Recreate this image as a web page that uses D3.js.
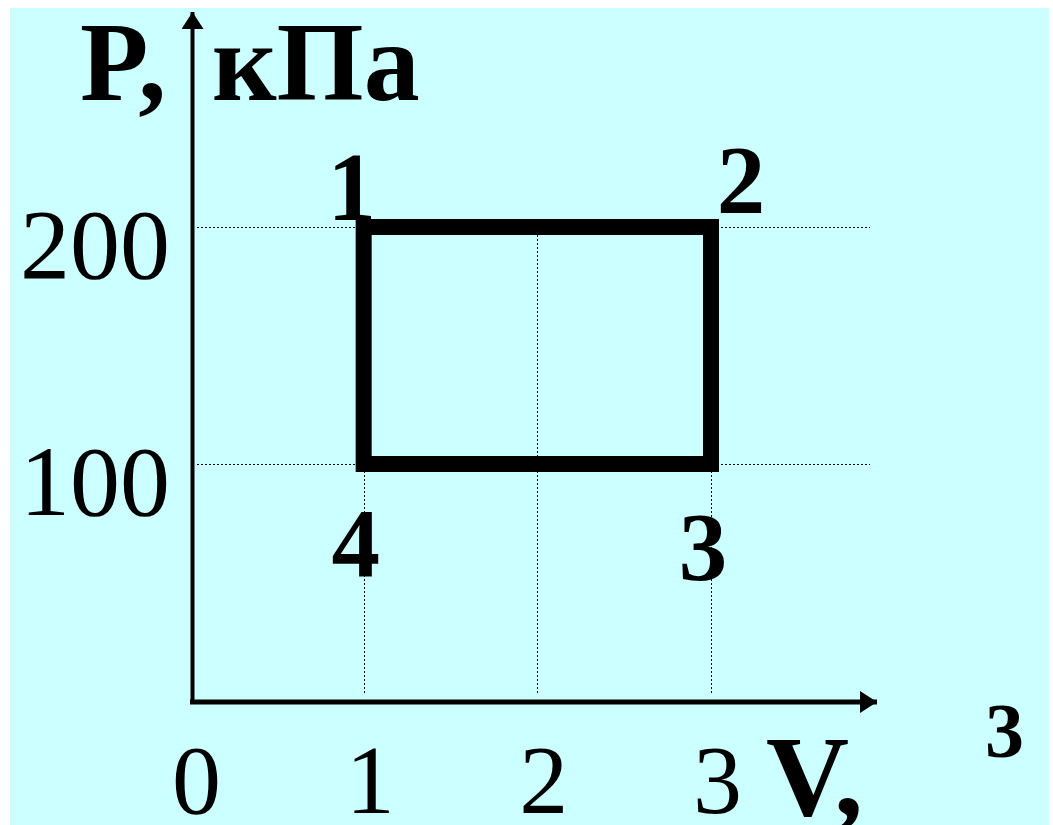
<!DOCTYPE html>
<html lang="ru">
<head>
    <meta charset="utf-8">
    <title> P-V </title>
    <script src="https://d3js.org/d3.v7.min.js"></script>
    <style>
        body { margin: 0; background: white; }
    </style>
</head>
<body>
    <div id="chart"></div>
    <script>
        // values
        var volumeTicks = [0, 1, 2, 3];
        var pressureTicks = [100, 200];
        var gridVolumes = [1, 2, 3];
        var cycleV = [1, 3, 3, 1];
        var cycleP = [200, 200, 100, 100];
        var stateNames = ["1", "2", "3", "4"];

        var width = 1053, height = 825;

        // where each state label sits relative to its corner
        var labelShift = [[-12, -7], [30, -14], [-8, 116], [-8, 112]];

        var svg = d3.select("#chart")
            .append("svg")
            .attr("width", width)
            .attr("height", height);

        svg.append("rect")
            .attr("x", 10).attr("y", 8)
            .attr("width", 1039).attr("height", height - 8)
            .attr("fill", "#ccffff");

        var x = d3.scaleLinear().domain([0, 3]).range([190, 711]);
        var y = d3.scaleLinear().domain([0, 200]).range([701, 227]);

        var defs = svg.append("defs");
        defs.append("marker")
            .attr("id", "arrow")
            .attr("viewBox", "0 -11 17 22")
            .attr("refX", 17).attr("refY", 0)
            .attr("markerUnits", "userSpaceOnUse")
            .attr("markerWidth", 17).attr("markerHeight", 22)
            .attr("orient", "auto")
            .append("path")
            .attr("d", "M0,-11 L17,0 L0,11 Z")
            .attr("fill", "#000");

        // dotted grid
        var grid = svg.append("g")
            .attr("stroke", "#000")
            .attr("stroke-width", 1)
            .attr("stroke-dasharray", "2,2")
            .attr("shape-rendering", "crispEdges");
        grid.selectAll(".hgrid")
            .data(pressureTicks)
            .enter().append("line")
            .attr("x1", 197).attr("x2", 870)
            .attr("y1", function(d) { return Math.round(y(d)) + 0.5; })
            .attr("y2", function(d) { return Math.round(y(d)) + 0.5; });
        grid.selectAll(".vgrid")
            .data(gridVolumes)
            .enter().append("line")
            .attr("x1", function(d) { return Math.round(x(d)) + 0.5; })
            .attr("x2", function(d) { return Math.round(x(d)) + 0.5; })
            .attr("y1", y(200))
            .attr("y2", y(0) - 8);

        // the cycle 1-2-3-4
        var cycle = cycleV.map(function(v, i) { return [x(v), y(cycleP[i])]; });
        svg.append("path")
            .attr("d", d3.line()(cycle) + "Z")
            .attr("fill", "none")
            .attr("stroke", "#000")
            .attr("stroke-width", 16)
            .attr("stroke-linejoin", "miter");

        // axes lines with arrows
        svg.append("line")
            .attr("x1", 192.5).attr("y1", y(0) + 2)
            .attr("x2", 192.5).attr("y2", 12)
            .attr("stroke", "#000").attr("stroke-width", 4)
            .attr("marker-end", "url(#arrow)");
        svg.append("line")
            .attr("x1", 190).attr("y1", 702)
            .attr("x2", 877).attr("y2", 702)
            .attr("stroke", "#000").attr("stroke-width", 5)
            .attr("marker-end", "url(#arrow)");

        // tick labels
        var xAxis = svg.append("g")
            .attr("transform", "translate(0," + y(0) + ")")
            .call(d3.axisBottom(x).tickValues(volumeTicks).tickSize(0).tickPadding(42)
                .tickFormat(d3.format("d")));
        xAxis.select(".domain").remove();
        xAxis.selectAll("text")
            .attr("dx", 6)
            .style("font-family", "'Liberation Serif', 'Times New Roman', serif")
            .style("font-size", "98px")
            .attr("fill", "#000");

        var yAxis = svg.append("g")
            .attr("transform", "translate(192,0)")
            .call(d3.axisLeft(y).tickValues(pressureTicks).tickSize(0).tickPadding(22)
                .tickFormat(d3.format("d")));
        yAxis.select(".domain").remove();
        yAxis.selectAll("text")
            .attr("dy", "0.5em")
            .style("font-family", "'Liberation Serif', 'Times New Roman', serif")
            .style("font-size", "100px")
            .attr("fill", "#000");

        // state numbers
        svg.selectAll(".state")
            .data(cycle)
            .enter().append("text")
            .attr("x", function(d, i) { return d[0] + labelShift[i][0]; })
            .attr("y", function(d, i) { return d[1] + labelShift[i][1]; })
            .attr("text-anchor", "middle")
            .style("font-family", "'Liberation Serif', 'Times New Roman', serif")
            .style("font-weight", "bold")
            .style("font-size", "97px")
            .text(function(d, i) { return stateNames[i]; });

        // axis titles
        var bold = function(sel, size) {
            return sel.style("font-family", "'Liberation Serif', 'Times New Roman', serif")
                .style("font-weight", "bold")
                .style("font-size", size + "px");
        };
        bold(svg.append("text").attr("x", 80).attr("y", 100), 112).text("P,");
        bold(svg.append("text").attr("x", 212).attr("y", 100), 112).text("кПа");
        bold(svg.append("text").attr("x", 766).attr("y", 815), 115).text("V,");
        bold(svg.append("text").attr("x", 985).attr("y", 757), 78).text("3");
    </script>
</body>
</html>
